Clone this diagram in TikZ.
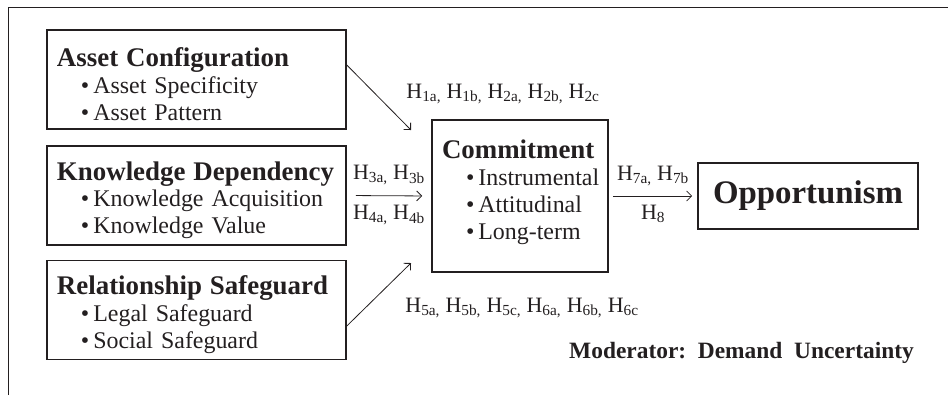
\documentclass[tikz,border=0pt]{standalone}
\usepackage{fontspec}
\setmainfont{Liberation Serif}
\usepackage{tikz}
\usetikzlibrary{arrows.meta,positioning,calc}
\definecolor{FigInk}{HTML}{231F20}
\hyphenpenalty=10000
\newcommand{\Hy}[1]{H\textsubscript{#1}}
\newcommand{\itm}{\hspace*{24bp}\textbullet\kern4bp}
\newcommand{\ttl}[1]{{\fontsize{27}{27}\selectfont\bfseries #1}}
\newcommand{\tst}{\rule{0pt}{28bp}}

\begin{document}
\begin{tikzpicture}[x=1bp,y=-1bp,
    blk/.style={draw=FigInk,line width=1.6bp,minimum width=299bp,minimum height=99bp,
      text width=279bp,align=left,inner sep=0pt,text=FigInk,font=\fontsize{24}{27}\selectfont},
    arr/.style={-{Straight Barb[length=5bp,width=10bp]},FigInk,line width=0.8bp},
    hyp/.style={font=\fontsize{22}{22}\selectfont,text=FigInk,inner sep=0pt}
  ]
    \useasboundingbox (0,0) rectangle (948,395);
    \draw[FigInk,line width=1bp](8,395)--(8,7)--(948,7);
    \node[blk](A) at (196.5,79.5) {\tst\ttl{Asset Configuration}\\ \itm Asset Specificity\\ \itm Asset Pattern};
    \node[blk](K) at (196.5,195.5){\tst\ttl{Knowledge Dependency}\\ \itm Knowledge Acquisition\\ \itm Knowledge Value};
    \node[blk](R) at (196.5,310)  {\tst\ttl{Relationship Safeguard}\\ \itm Legal Safeguard\\ \itm Social Safeguard};
    \node[blk,minimum width=176bp,minimum height=152bp,text width=156bp](C) at (520,196)
      {\ttl{Commitment}\\ \itm Instrumental\\ \itm Attitudinal\\ \itm Long-term\rule[-12bp]{0pt}{0pt}};
    \node[draw=FigInk,line width=1.6bp,minimum width=220bp,minimum height=66bp,text=FigInk,
      font=\fontsize{33}{33}\selectfont\bfseries](O) at (808,196) {Opportunism};
    \coordinate (t1) at (411,130);
    \coordinate (t3) at (411,263);
    \draw[arr]($(A.east)+(0,-14.5)$)--(t1);
    \draw[arr]($(R.east)+(0,16)$)--(t3);
    \draw[arr,shorten <=9bp,shorten >=9bp](K.east)--
      node[hyp,above=10bp]{\Hy{3a,} \Hy{3b}} node[hyp,below=9bp]{\Hy{4a,} \Hy{4b}}(C.west);
    \draw[arr,shorten <=4bp,shorten >=5bp](C.east)--
      node[hyp,above=10bp]{\Hy{7a,} \Hy{7b}} node[hyp,below=9bp]{\Hy{8}}(O.west);
    \node[hyp](h12) at (503,94) {\Hy{1a,} \Hy{1b,} \Hy{2a,} \Hy{2b,} \Hy{2c}};
    \node[hyp](h56) at (522,308){\Hy{5a,} \Hy{5b,} \Hy{5c,} \Hy{6a,} \Hy{6b,} \Hy{6c}};
    \node[text=FigInk,inner sep=0pt,font=\fontsize{23.5}{24}\selectfont\bfseries](mod) at (741.5,353)
      {Moderator:\ \ Demand\ \ Uncertainty};
  \end{tikzpicture}
\end{document}
